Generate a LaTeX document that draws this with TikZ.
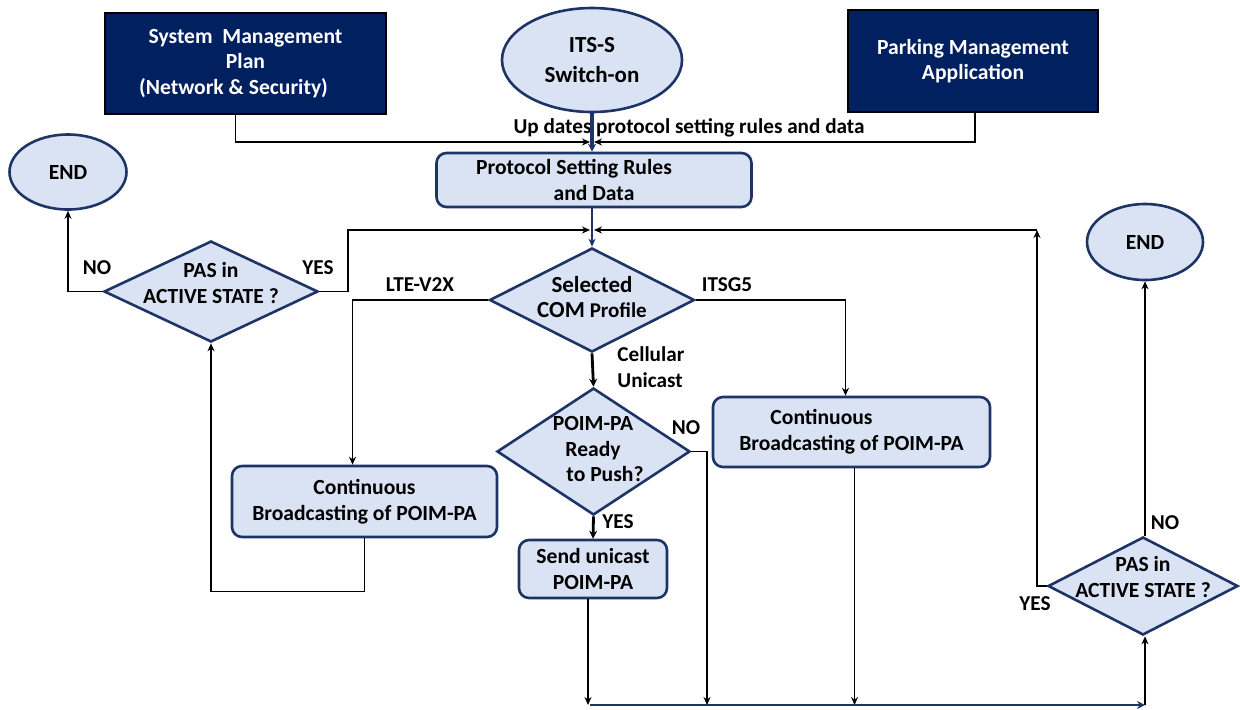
\documentclass[tikz,border=0pt]{standalone}
\usepackage{fontspec}
\setmainfont{Carlito}
\usetikzlibrary{shapes.geometric,arrows.meta}
\definecolor{navy}{HTML}{002060}
\definecolor{edge}{HTML}{1F3466}
\definecolor{soft}{HTML}{DAE3F3}
\tikzset{
  txt/.style={font=\fontsize{10.8}{12.8}\selectfont\bfseries, align=center, inner sep=0pt},
  darkbox/.style={txt, rectangle, fill=navy, draw=black, line width=1pt, text=white},
  softbox/.style={txt, rectangle, rounded corners=5pt, fill=soft, draw=edge, line width=1.3pt},
  endell/.style={txt, ellipse, fill=soft, draw=edge, line width=1.3pt},
  decision/.style={diamond, inner sep=0pt, fill=soft, draw=edge, line width=1.3pt},
  lbl/.style={font=\fontsize{10.6}{12.8}\selectfont\bfseries, inner sep=0pt, align=left},
  conn/.style={draw=black, line width=0.6pt},
  arr/.style={-{Stealth[length=4pt,width=3.5pt]}},
  thickconn/.style={draw=black, line width=1.4pt, -{Stealth[length=4pt,width=4pt]}},
}
\begin{document}
\begin{tikzpicture}[x=0.5pt,y=-0.5pt]
\useasboundingbox (0,0) rectangle (1240,709);

% nodes
\node[darkbox, minimum width=140.5pt, minimum height=50.5pt] (sys) at (245.5,63.5)
  {System\ \ Management\\Plan\\\hspace*{-12pt}(Network \& Security)};
\node[endell, minimum width=90pt, minimum height=52pt, font=\fontsize{11.5}{15}\selectfont\bfseries] (its) at (592,60) {ITS-S\\Switch-on};
\node[darkbox, minimum width=125pt, minimum height=51pt] (park) at (973,61) {Parking Management\\Application};
\node[softbox, minimum width=157.5pt, minimum height=27pt] (proto) at (594,180)
  {\hspace*{-20pt}Protocol Setting Rules\\and Data};
\node[decision, minimum width=102.5pt, minimum height=52pt] (sel) at (592,300) {};
\node[txt] (selt) at (592,297) {{\fontsize{11.5}{14}\selectfont Selected}\\{\fontsize{11.5}{14}\selectfont COM} {\fontsize{10.5}{14}\selectfont Profile}};
\node[decision, minimum width=96.5pt, minimum height=63.5pt] (poim) at (593.5,451.5) {};
\node[txt] (poimt) at (593,449) {POIM-PA\\Ready\hspace*{8pt}\\\hspace*{12pt}to Push?};
\node[softbox, minimum width=74pt, minimum height=29pt] (send) at (593,569) {Send unicast\\POIM-PA};
\node[softbox, minimum width=132.5pt, minimum height=35.5pt] (lcont) at (364.5,501.5)
  {Continuous\\Broadcasting of POIM-PA};
\node[softbox, minimum width=138.5pt, minimum height=35pt] (rcont) at (851.5,432)
  {\hspace*{-30pt}Continuous\\Broadcasting of POIM-PA};
\node[decision, minimum width=107pt, minimum height=50.5pt] (ldia) at (211,291.5) {};
\node[txt] (ldiat) at (211,283) {PAS in\\ACTIVE STATE ?};
\node[decision, minimum width=95pt, minimum height=49pt] (rdia) at (1143,586) {};
\node[txt] (rdiat) at (1143,577) {PAS in\\ACTIVE STATE ?};
\node[endell, minimum width=58.5pt, minimum height=37.5pt] (lend) at (68,172) {END};
\node[endell, minimum width=58pt, minimum height=38pt] (rend) at (1145,242) {END};

% labels
\node[lbl] (lup) at (689,128) {Up dates protocol setting rules and data};
\node[lbl] (lno1) at (97,268) {NO};
\node[lbl] (lyes1) at (318,268) {YES};
\node[lbl] (llte) at (420,285) {LTE-V2X};
\node[lbl] (litsg) at (727,285) {ITSG5};
\node[lbl, anchor=west] (lcell) at (617,367) {Cellular\\Unicast};
\node[lbl] (lno2) at (686,428) {NO};
\node[lbl] (lyes2) at (618,522) {YES};
\node[lbl] (lno3) at (1165,523) {NO};
\node[lbl] (lyes3) at (1035,604) {YES};

% coordinates
\coordinate (jn) at (592,142);
\coordinate (jn2) at (592,230);
\coordinate (ly) at (348,230);
\coordinate (ry) at (1037,230);
\coordinate (bl) at (590,705);
\coordinate (br) at (1145,705);
\coordinate (bn) at (707,705);

% connectors
\draw[conn,arr] ([xshift=-5pt]sys.south) |- ([xshift=-1pt]jn);
\draw[conn,arr] ([xshift=1pt]park.south) |- ([xshift=1pt]jn);
\draw[draw=edge, line width=1.6pt, -{Stealth[length=4pt,width=4pt]}] (its.south) -- (its.south |- proto.north);
\draw[draw=edge, line width=0.8pt, arr] (sel.north |- proto.south) -- (sel.north);
\draw[conn,arr] (ldia.east) -| (ly) -- ([xshift=-1pt]jn2);
\draw[conn,arr] (rdia.west) -| (ry);
\draw[conn,arr] (ry) -- ([xshift=1pt]jn2);
\draw[conn,arr] (sel.west) -| ([xshift=-6pt]lcont.north);
\draw[conn,arr] (sel.east) -| ([xshift=-3pt]rcont.north);
\draw[thickconn] (sel.south) -- (poim.north);
\draw[thickconn] (poim.south) -- (send.north);
\draw[conn,arr] (poim.east) -| (bn);
\draw[conn,arr] ([xshift=-2.5pt]send.south) -- ([xshift=-2.5pt]send.south |- bl);
\draw[conn,arr] ([xshift=1.5pt]rcont.south) -- ([xshift=1.5pt]rcont.south |- bl);
\draw[conn] (lcont.south) -- ++(0,53) coordinate (lb);
\draw[conn,arr] (lb) -| (ldia.south);
\draw[conn,arr] (ldia.west) -| (lend.south);
\draw[conn,arr] ([xshift=1pt]rdia.north) -- ([xshift=1pt]rdia.north |- rend.south);
\draw[draw=edge, line width=1.3pt, -{Stealth[length=4pt,width=4pt]}] (bl) -- (br);
\draw[conn,arr] (br) -- ([xshift=1pt]rdia.south);
\end{tikzpicture}
\end{document}
